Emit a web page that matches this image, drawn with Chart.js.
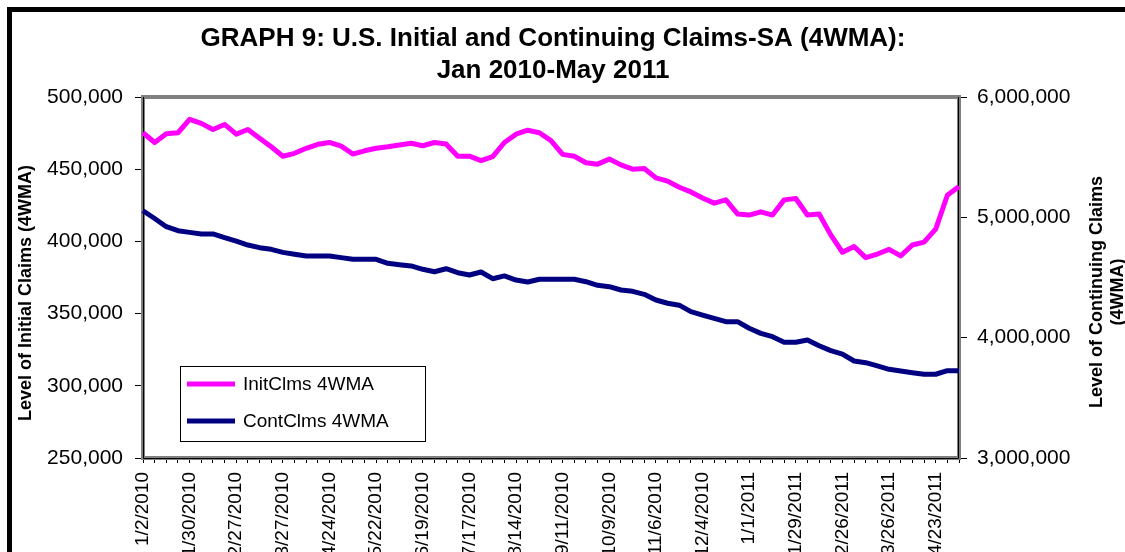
<!DOCTYPE html>
<html>
<head>
<meta charset="utf-8">
<title>GRAPH 9: U.S. Initial and Continuing Claims-SA (4WMA)</title>
<script src="https://cdn.jsdelivr.net/npm/chart.js@4.4.1/dist/chart.umd.min.js"></script>
<style>
  html, body { margin: 0; padding: 0; background: #fff; overflow: hidden; }
  #claims-chart { display: block; }
</style>
</head>
<body>
<canvas id="claims-chart" width="1125" height="552"></canvas>
<script>
// weekly dates, week ending Saturday
const weeks = [
  '1/2/2010', '1/9/2010', '1/16/2010', '1/23/2010', '1/30/2010', '2/6/2010', '2/13/2010', '2/20/2010',
  '2/27/2010', '3/6/2010', '3/13/2010', '3/20/2010', '3/27/2010', '4/3/2010', '4/10/2010', '4/17/2010',
  '4/24/2010', '5/1/2010', '5/8/2010', '5/15/2010', '5/22/2010', '5/29/2010', '6/5/2010', '6/12/2010',
  '6/19/2010', '6/26/2010', '7/3/2010', '7/10/2010', '7/17/2010', '7/24/2010', '7/31/2010', '8/7/2010',
  '8/14/2010', '8/21/2010', '8/28/2010', '9/4/2010', '9/11/2010', '9/18/2010', '9/25/2010', '10/2/2010',
  '10/9/2010', '10/16/2010', '10/23/2010', '10/30/2010', '11/6/2010', '11/13/2010', '11/20/2010', '11/27/2010',
  '12/4/2010', '12/11/2010', '12/18/2010', '12/25/2010', '1/1/2011', '1/8/2011', '1/15/2011', '1/22/2011',
  '1/29/2011', '2/5/2011', '2/12/2011', '2/19/2011', '2/26/2011', '3/5/2011', '3/12/2011', '3/19/2011',
  '3/26/2011', '4/2/2011', '4/9/2011', '4/16/2011', '4/23/2011', '4/30/2011', '5/7/2011'
];

const initClaims = [
  475250, 468500, 474500, 475250, 484500, 481750, 477500, 481000,
  474250, 477500, 471500, 465500, 459000, 461000, 464500, 467250,
  468500, 466000, 460500, 462750, 464500, 465500, 466750, 468000,
  466250, 468500, 467500, 459000, 459000, 456000, 458750, 468500,
  474250, 477000, 475250, 469750, 460250, 459000, 454500, 453500,
  457000, 453000, 450000, 450500, 444000, 441750, 437500, 434250,
  430000, 426500, 428750, 419000, 418250, 420500, 418250, 428750,
  429750, 418250, 419000, 404500, 392500, 396500, 388750, 391250,
  394500, 390000, 397500, 399500, 408500, 432000, 438000
];

const contClaims = [
  5055000, 4990000, 4922000, 4889000, 4875000, 4862000, 4862000, 4831000,
  4803000, 4770000, 4748000, 4734000, 4709000, 4693000, 4679000, 4679000,
  4679000, 4665000, 4651000, 4651000, 4651000, 4618000, 4606000, 4596000,
  4568000, 4548000, 4573000, 4540000, 4521000, 4546000, 4490000, 4513000,
  4479000, 4463000, 4485000, 4485000, 4485000, 4485000, 4465000, 4435000,
  4424000, 4396000, 4385000, 4360000, 4313000, 4286000, 4270000, 4216000,
  4188000, 4161000, 4133000, 4133000, 4078000, 4036000, 4008000, 3962000,
  3962000, 3981000, 3933000, 3892000, 3864000, 3806000, 3792000, 3765000,
  3737000, 3723000, 3709000, 3696000, 3696000, 3726000, 3726000
];

const initRange = [250000, 500000];
const contRange = [3000000, 6000000];

const FONT = '"Liberation Sans", Arial, Helvetica, sans-serif';
Chart.defaults.font.family = FONT;
Chart.defaults.color = '#000';

// frame, plot border, axis titles and legend
const decorations = {
  id: 'decorations',
  beforeDraw(chart) {
    const ctx = chart.ctx;
    ctx.save();
    ctx.fillStyle = '#fff';
    ctx.fillRect(0, 0, chart.width, chart.height);
    ctx.fillStyle = '#000';
    ctx.fillRect(7, 7, 5, chart.height);
    ctx.fillRect(7, 7, chart.width, 5);
    ctx.restore();
  },
  beforeDatasetsDraw(chart) {
    const { ctx, chartArea: a } = chart;
    ctx.save();
    ctx.strokeStyle = '#808080';
    ctx.lineWidth = 4;
    ctx.strokeRect(a.left, a.top, a.right - a.left, a.bottom - a.top);
    ctx.strokeStyle = '#000';
    ctx.lineWidth = 1;
    ctx.beginPath();
    ctx.moveTo(a.left + 0.5, a.top);
    ctx.lineTo(a.left + 0.5, a.bottom + 0.5);
    ctx.lineTo(a.right - 0.5, a.bottom + 0.5);
    ctx.lineTo(a.right - 0.5, a.top);
    ctx.stroke();
    ctx.restore();
  },
  afterDraw(chart) {
    const { ctx, chartArea: a } = chart;
    ctx.save();
    ctx.fillStyle = '#000';
    ctx.textAlign = 'center';
    ctx.textBaseline = 'middle';
    ctx.font = 'bold 18px ' + FONT;

    ctx.save();
    ctx.translate(26, 293);
    ctx.rotate(-Math.PI / 2);
    ctx.fillText('Level of Initial Claims (4WMA)', 0, 0);
    ctx.restore();

    ctx.save();
    ctx.translate(1097, 292);
    ctx.rotate(-Math.PI / 2);
    ctx.fillText('Level of Continuing Claims', 0, 0);
    ctx.fillText('(4WMA)', 0, 21);
    ctx.restore();

    // legend box, lower left of plot
    const lx = a.left + 37, ly = a.top + 269, lw = 245, lh = 75;
    ctx.fillStyle = '#fff';
    ctx.fillRect(lx, ly, lw, lh);
    ctx.strokeStyle = '#000';
    ctx.lineWidth = 1;
    ctx.strokeRect(lx + 0.5, ly + 0.5, lw, lh);
    ctx.font = '19px ' + FONT;
    ctx.textAlign = 'left';
    chart.data.datasets.forEach((ds, i) => {
      const y = ly + 18 + i * 37;
      ctx.strokeStyle = ds.borderColor;
      ctx.lineWidth = 5;
      ctx.beginPath();
      ctx.moveTo(lx + 7, y);
      ctx.lineTo(lx + 55, y);
      ctx.stroke();
      ctx.fillStyle = '#000';
      ctx.fillText(ds.label, lx + 63, y + 1);
    });
    ctx.restore();
  }
};

const ctx = document.getElementById('claims-chart').getContext('2d');
const claimsChart = new Chart(ctx, {
  type: 'line',
  data: {
    labels: weeks,
    datasets: [
      {
        label: 'InitClms 4WMA',
        data: initClaims,
        yAxisID: 'y',
        borderColor: '#ff00ff',
        borderWidth: 5,
        pointRadius: 0,
        tension: 0,
        borderJoinStyle: 'round'
      },
      {
        label: 'ContClms 4WMA',
        data: contClaims,
        yAxisID: 'y1',
        borderColor: '#000080',
        borderWidth: 5,
        pointRadius: 0,
        tension: 0,
        borderJoinStyle: 'round'
      }
    ]
  },
  options: {
    responsive: false,
    animation: false,
    layout: { padding: { left: 0, right: 19, top: 0, bottom: 0 } },
    plugins: {
      legend: { display: false },
      tooltip: { enabled: false },
      title: {
        display: true,
        text: ['GRAPH 9: U.S. Initial and Continuing Claims-SA (4WMA):', 'Jan 2010-May 2011'],
        color: '#000',
        font: { size: 26, weight: 'bold', lineHeight: '32px' },
        padding: { top: 23, bottom: 10 }
      }
    },
    scales: {
      x: {
        offset: false,
        grid: { drawOnChartArea: false, tickLength: 5, tickColor: '#000' },
        border: { display: false },
        ticks: {
          autoSkip: false,
          maxRotation: 90,
          minRotation: 90,
          padding: 9,
          font: { size: 19 },
          callback: (val, idx) => (idx % 4 === 0 ? weeks[idx] : '')
        },
        afterFit: (scale) => { scale.height = 94; }
      },
      y: {
        position: 'left',
        min: initRange[0],
        max: initRange[1],
        grid: { drawOnChartArea: false, tickLength: 8, tickColor: '#000' },
        border: { display: false },
        ticks: {
          stepSize: 50000,
          padding: 12,
          font: { size: 21 },
          callback: (v) => v.toLocaleString('en-US')
        },
        afterFit: (scale) => { scale.width = 143; }
      },
      y1: {
        position: 'right',
        min: contRange[0],
        max: contRange[1],
        grid: { drawOnChartArea: false, tickLength: 8, tickColor: '#000' },
        border: { display: false },
        ticks: {
          stepSize: 1000000,
          padding: 10,
          font: { size: 21 },
          callback: (v) => v.toLocaleString('en-US')
        },
        afterFit: (scale) => { scale.width = 147; }
      }
    }
  },
  plugins: [decorations]
});
</script>
</body>
</html>
